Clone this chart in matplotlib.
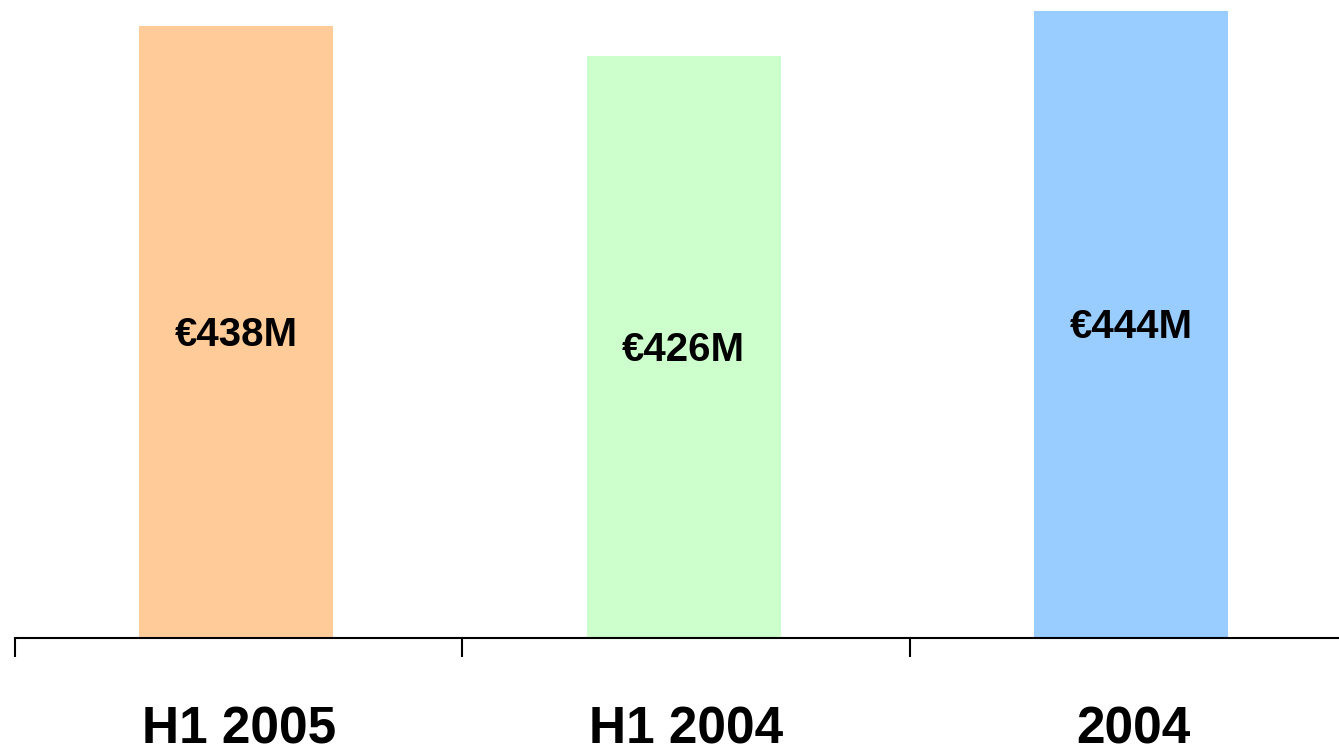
import matplotlib
matplotlib.use("Agg")
import matplotlib.pyplot as plt

categories = ["H1 2005", "H1 2004", "2004"]
values = [438, 426, 444]
value_labels = ["€438M", "€426M", "€444M"]
colors = ["#FFCC99", "#CCFFCC", "#99CCFF"]

plt.rcParams["font.family"] = ["Liberation Sans", "DejaVu Sans"]

W, H = 1339, 745
fig = plt.figure(figsize=(W / 100, H / 100), dpi=100)
ax_left, ax_bottom = 15 / W, (H - 637.5) / H
ax = fig.add_axes([ax_left, ax_bottom, 1 - ax_left, 1 - ax_bottom])

base = 193.6
x = list(range(len(categories)))
ax.bar([xi - 0.005 for xi in x], [v - base for v in values], bottom=base,
       width=0.434, color=colors, zorder=1)
for xi, v, lab in zip(x, values, value_labels):
    ax.text(xi - 0.005, (v + base) / 2 - 1.2, lab, ha="center", va="center",
            fontsize=29, fontweight="bold", zorder=3)

ax.set_xlim(-0.5, 2.46)
ax.set_ylim(base, 448.4)

for s in ["top", "right", "left"]:
    ax.spines[s].set_visible(False)
ax.spines["bottom"].set_linewidth(1.5)
ax.set_yticks([])

ax.set_xticks([-0.5, 0.5, 1.5])
ax.set_xticklabels([])
ax.tick_params(axis="x", which="major", length=14, width=1.5, direction="out")
ax.set_xticks(x, minor=True)
ax.set_xticklabels(categories, minor=True, fontsize=37, fontweight="bold")
ax.tick_params(axis="x", which="minor", length=0, pad=49)

fig.savefig("out.png", dpi=100)
